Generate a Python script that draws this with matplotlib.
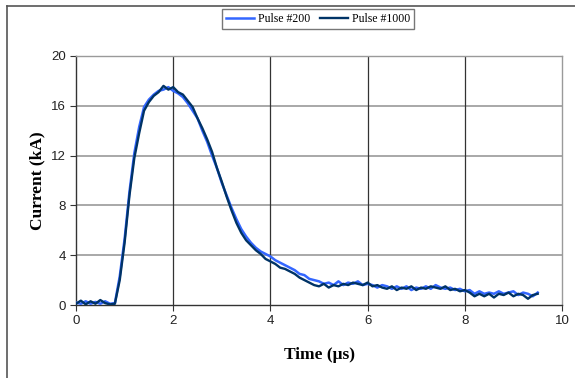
import matplotlib
matplotlib.use("Agg")
import matplotlib.pyplot as plt
from matplotlib.lines import Line2D
import numpy as np

# time axis, 0.1 us steps (us)
time_us = np.round(np.arange(0, 9.51, 0.1), 2)

pulse_200 = [
    0.2, 0.1, 0.3, 0.1, 0.25, 0.1, 0.3, 0.1, 0.15, 2.3,
    5.3, 9.1, 12.2, 14.3, 15.9, 16.5, 16.9, 17.2, 17.3, 17.5,
    17.2, 17.0, 16.7, 16.2, 15.6, 15.0, 14.0, 13.1, 12.0, 11.0,
    9.8, 8.8, 7.8, 6.9, 6.1, 5.5, 5.0, 4.6, 4.3, 4.1,
    3.9, 3.6, 3.4, 3.2, 3.0, 2.8, 2.5, 2.4, 2.1, 2.0,
    1.9, 1.7, 1.8, 1.6, 1.9, 1.6, 1.8, 1.7, 1.9, 1.6,
    1.7, 1.6, 1.4, 1.6, 1.5, 1.3, 1.5, 1.3, 1.5, 1.2,
    1.4, 1.3, 1.5, 1.3, 1.6, 1.4, 1.3, 1.4, 1.2, 1.3,
    1.1, 1.2, 0.9, 1.1, 0.9, 1.0, 0.9, 1.1, 0.9, 1.0,
    1.1, 0.8, 1.0, 0.9, 0.7, 1.0,
]

pulse_1000 = [
    0.1, 0.35, 0.05, 0.3, 0.1, 0.4, 0.15, 0.05, 0.1, 2.0,
    5.0, 8.8, 11.8, 13.8, 15.6, 16.3, 16.8, 17.1, 17.6, 17.3,
    17.5, 17.1, 16.9, 16.4, 15.9, 15.0, 14.2, 13.3, 12.3, 11.0,
    9.9, 8.7, 7.6, 6.6, 5.8, 5.2, 4.8, 4.4, 4.1, 3.7,
    3.5, 3.3, 3.0, 2.9, 2.7, 2.5, 2.2, 2.0, 1.8, 1.6,
    1.5, 1.7, 1.4, 1.6, 1.5, 1.7, 1.6, 1.8, 1.7, 1.6,
    1.8, 1.5, 1.6, 1.4, 1.3, 1.5, 1.2, 1.4, 1.3, 1.5,
    1.2, 1.4, 1.3, 1.5, 1.4, 1.3, 1.5, 1.2, 1.3, 1.1,
    1.2, 1.0, 0.7, 0.9, 0.7, 0.9, 0.6, 0.9, 0.8, 1.0,
    0.7, 0.9, 0.8, 0.5, 0.8, 0.9,
]

x_ticks = [0, 2, 4, 6, 8, 10]
y_ticks = [0, 4, 8, 12, 16, 20]

fig = plt.figure(figsize=(5.75, 3.78), dpi=100)
ax = fig.add_axes([76 / 575, 1 - 305 / 378, 486 / 575, 249 / 378])

# outer frame (top and left only, as in the screenshot)
fig.add_artist(Line2D([7 / 575, 1.0], [1 - 6 / 378, 1 - 6 / 378],
                      transform=fig.transFigure, color="#555555", lw=1.2))
fig.add_artist(Line2D([7 / 575, 7 / 575], [0.0, 1 - 6 / 378],
                      transform=fig.transFigure, color="#555555", lw=1.2))

# grid: grey horizontal, dark vertical
for y in y_ticks[1:-1]:
    ax.axhline(y, color="#9a9a9a", lw=1.2, zorder=1)
for x in x_ticks[1:-1]:
    ax.axvline(x, color="#333333", lw=0.9, zorder=1)

ax.plot(time_us, pulse_200, color="#3366ff", lw=1.8, label="Pulse #200", zorder=3)
ax.plot(time_us, pulse_1000, color="#003366", lw=1.7, label="Pulse #1000", zorder=4)

ax.set_xlim(0, 10)
ax.set_ylim(0, 20)
ax.set_xticks(x_ticks)
ax.set_yticks(y_ticks)
ax.tick_params(direction="out", length=4, width=0.8, colors="#333333",
               labelsize=9.5, labelcolor="#222222")
for lab in ax.get_xticklabels() + ax.get_yticklabels():
    lab.set_family("Liberation Sans")

ax.spines["left"].set_color("#333333")
ax.spines["bottom"].set_color("#333333")
ax.spines["top"].set_color("#9a9a9a")
ax.spines["right"].set_color("#9a9a9a")
for s in ax.spines.values():
    s.set_linewidth(1.0)

ax.set_xlabel("Time (\u03bcs)", family="Liberation Serif", fontweight="bold",
              fontsize=12.5, labelpad=14)
ax.set_ylabel("Current (kA)", family="Liberation Serif", fontweight="bold",
              fontsize=12.5, labelpad=4)

leg = fig.legend(loc="center", bbox_to_anchor=(318 / 575, 1 - 19 / 378),
                 ncol=2, frameon=True, fancybox=False, handlelength=2.4,
                 handletextpad=0.3, columnspacing=0.8, borderpad=0.35,
                 prop={"family": "Liberation Serif", "size": 8.5})
leg.get_frame().set_edgecolor("#555555")
leg.get_frame().set_linewidth(1.0)

fig.savefig("out.png", dpi=100)
